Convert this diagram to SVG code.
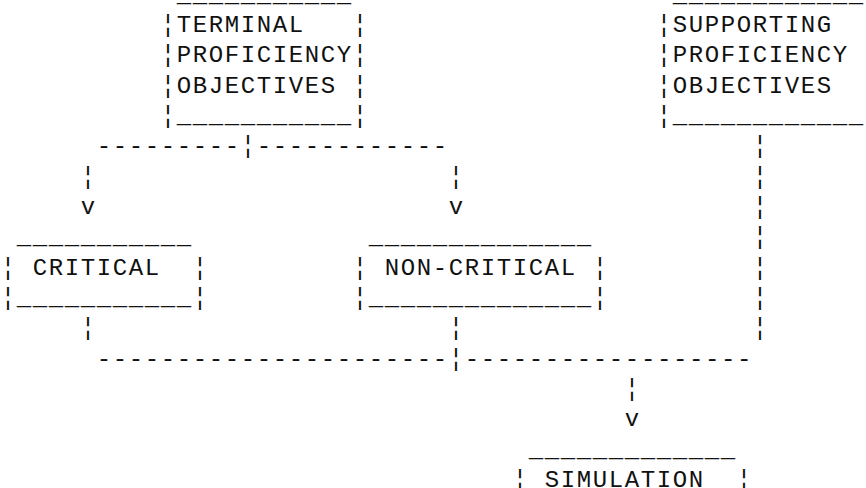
<svg xmlns="http://www.w3.org/2000/svg" width="866" height="488" viewBox="0 0 866 488" xml:space="preserve">
  <style>
    text { font-family: "Liberation Mono", "DejaVu Sans Mono", monospace; font-size: 24px; letter-spacing: 1.6px; fill: #111; white-space: pre; }
  </style>
  <rect width="866" height="488" fill="#fff"/>
  <!-- character grid: 16px columns (x = 16*col + 0.8), 30.33px rows -->

  <g id="terminal">
    <text x="176.8" y="1.7">___________</text>
    <text x="160.8" y="32">¦TERMINAL   ¦</text>
    <text x="160.8" y="62.3">¦PROFICIENCY¦</text>
    <text x="160.8" y="92.7">¦OBJECTIVES ¦</text>
    <text x="160.8" y="123">¦___________¦</text>
  </g>

  <g id="supporting">
    <text x="672.8" y="1.7">____________</text>
    <text x="656.8" y="32">¦SUPPORTING</text>
    <text x="656.8" y="62.3">¦PROFICIENCY</text>
    <text x="656.8" y="92.7">¦OBJECTIVES</text>
    <text x="656.8" y="123">¦____________</text>
  </g>

  <g id="critical">
    <text x="16.8" y="244.3">___________</text>
    <text x="0.8" y="274.7">¦ CRITICAL  ¦</text>
    <text x="0.8" y="305">¦___________¦</text>
  </g>

  <g id="non-critical">
    <text x="368.8" y="244.3">______________</text>
    <text x="352.8" y="274.7">¦ NON-CRITICAL ¦</text>
    <text x="352.8" y="305">¦______________¦</text>
  </g>

  <g id="simulation">
    <text x="528.8" y="456.7">_____________</text>
    <text x="512.8" y="487">¦ SIMULATION  ¦</text>
  </g>

  <g id="connectors">
    <!-- terminal objectives split to critical / non-critical -->
    <text x="96.8" y="153.3">---------¦------------</text>
    <text x="80.8" y="183.7">¦</text>
    <text x="448.8" y="183.7">¦</text>
    <text x="80.8" y="214">v</text>
    <text x="448.8" y="214">v</text>
    <!-- supporting objectives down the right side -->
    <text x="752.8" y="153.3">¦</text>
    <text x="752.8" y="183.7">¦</text>
    <text x="752.8" y="214">¦</text>
    <text x="752.8" y="244.3">¦</text>
    <text x="752.8" y="274.7">¦</text>
    <text x="752.8" y="305">¦</text>
    <text x="752.8" y="335.3">¦</text>
    <!-- merge into simulation -->
    <text x="80.8" y="335.3">¦</text>
    <text x="448.8" y="335.3">¦</text>
    <text x="96.8" y="365.7">----------------------¦------------------</text>
    <text x="624.8" y="396">¦</text>
    <text x="624.8" y="426.3">v</text>
  </g>
</svg>
